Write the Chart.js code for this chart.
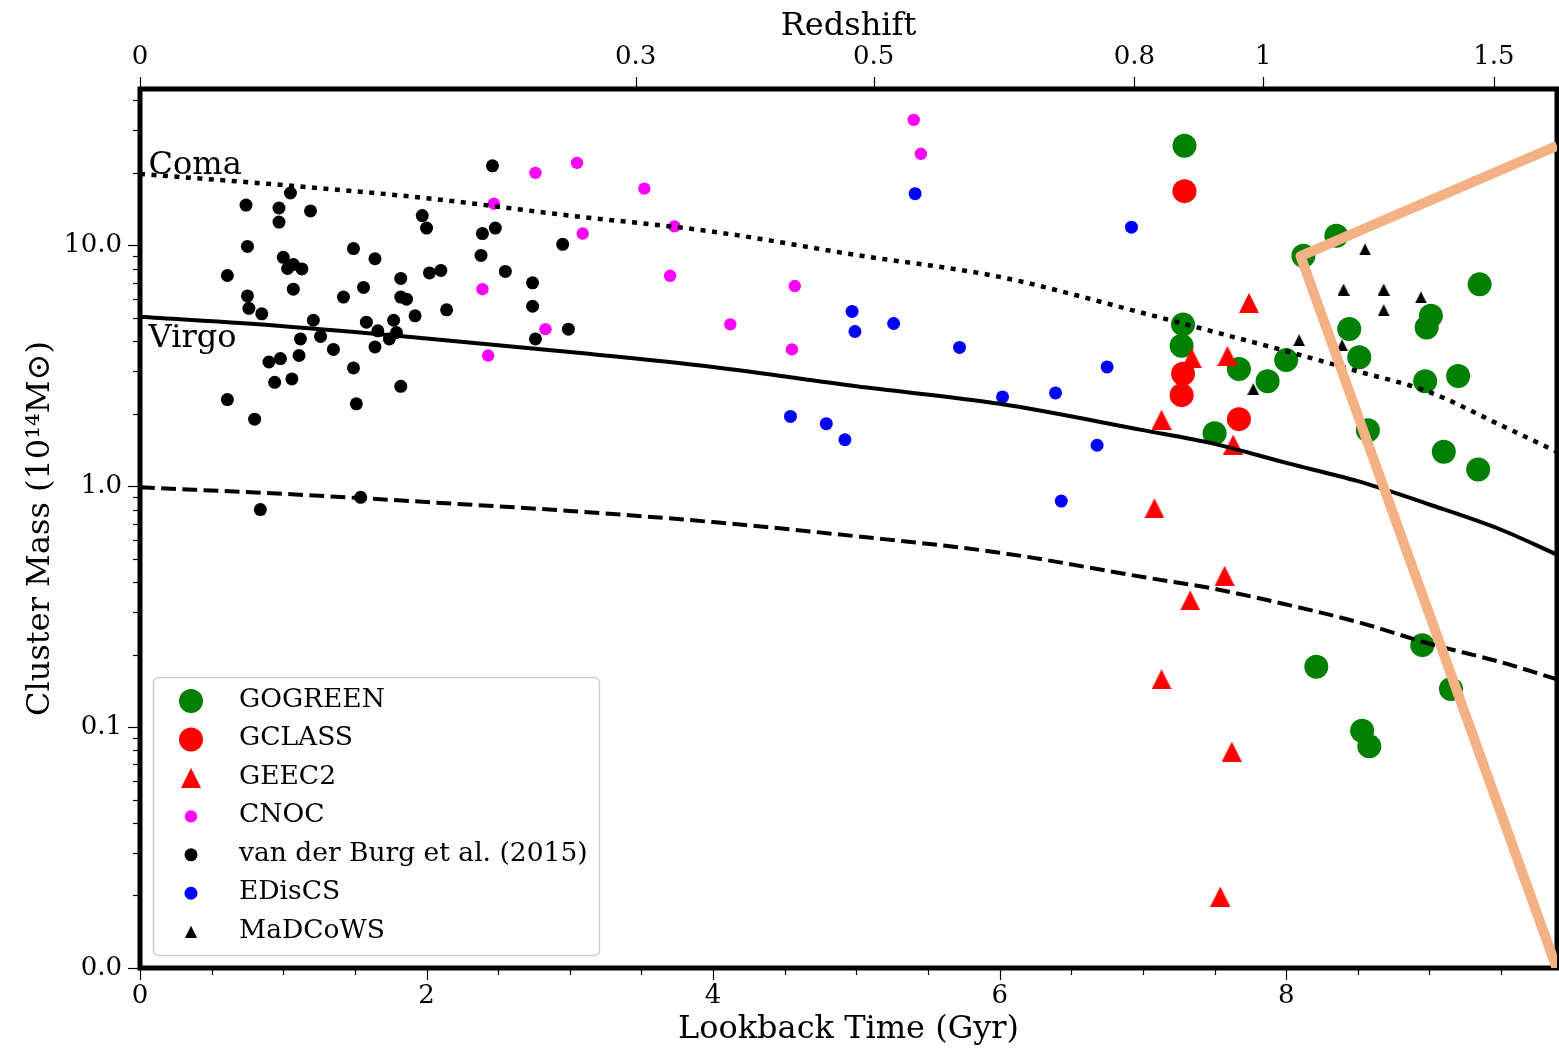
<!DOCTYPE html>
<html>
<head>
<meta charset="utf-8">
<title>Cluster mass vs lookback time</title>
<script src="https://cdn.jsdelivr.net/npm/chart.js@4.4.1/dist/chart.umd.min.js"></script>
<style>
  html, body { margin: 0; padding: 0; background: #fff; }
  canvas { display: block; }
</style>
</head>
<body>
<canvas id="massChart" width="1559" height="1051"></canvas>
<script>
// lookback time (Gyr) / cluster mass (1e14 Msun)
const gogreenT = [7.29, 8.35, 8.12, 9.35, 9.01, 8.98, 7.28, 7.27, 8.44, 8.51, 8.00, 7.67, 7.87, 8.97, 9.20, 7.50, 8.57, 9.10, 9.34, 8.21, 8.95, 9.15, 8.53, 8.58];
const gogreenM = [25.9, 10.96, 9.05, 6.89, 5.10, 4.56, 4.70, 3.83, 4.50, 3.43, 3.34, 3.07, 2.73, 2.73, 2.87, 1.66, 1.71, 1.39, 1.175, 0.178, 0.219, 0.144, 0.0967, 0.0832];

const gclassT = [7.29, 7.28, 7.27, 7.67];
const gclassM = [16.8, 2.93, 2.39, 1.90];

const geec2T = [7.74, 7.34, 7.59, 7.13, 7.63, 7.08, 7.57, 7.33, 7.13, 7.62, 7.54];
const geec2M = [5.77, 3.41, 3.48, 1.89, 1.49, 0.81, 0.425, 0.336, 0.158, 0.0791, 0.0198];

const cnocT = [2.76, 3.05, 3.52, 2.47, 3.73, 3.09, 3.70, 2.39, 2.83, 4.12, 2.43, 5.40, 5.45, 4.57, 4.55];
const cnocM = [20.0, 22.0, 17.2, 14.9, 12.0, 11.2, 7.48, 6.58, 4.49, 4.70, 3.49, 33.2, 24.0, 6.78, 3.70];

const vdbT = [1.05, 0.74, 0.97, 1.19, 0.97, 1.97, 2.00, 0.75, 1.49, 1.64, 0.61, 1.00, 1.03, 1.07, 1.13, 1.07,
              2.02, 2.10, 1.82, 1.56, 1.42, 0.75, 0.76, 0.85, 1.82, 1.86, 1.92, 2.14, 1.21, 1.58, 1.77, 1.66,
              1.79, 1.74, 1.26, 1.12, 1.64, 1.35, 0.98, 0.90, 1.11, 1.49, 0.94, 1.06, 1.82, 0.61, 1.51, 0.80,
              1.54, 0.84, 2.46, 2.39, 2.48, 2.95, 2.38, 2.55, 2.74, 2.74, 2.99, 2.76];
const vdbM = [16.5, 14.7, 14.3, 13.9, 12.5, 13.3, 11.8, 9.9, 9.7, 8.8, 7.5, 8.92, 8.02, 8.34, 7.99, 6.58,
              7.69, 7.87, 7.29, 6.69, 6.10, 6.17, 5.48, 5.20, 6.10, 5.98, 5.10, 5.40, 4.89, 4.80, 4.89, 4.42,
              4.35, 4.09, 4.19, 4.09, 3.79, 3.70, 3.39, 3.28, 3.49, 3.10, 2.70, 2.79, 2.60, 2.29, 2.20, 1.90,
              0.90, 0.80, 21.4, 11.2, 11.8, 10.1, 9.09, 7.80, 6.99, 5.59, 4.49, 4.09];

const edisT = [5.41, 6.92, 4.97, 4.99, 5.26, 5.72, 6.75, 6.02, 6.39, 4.54, 4.79, 4.92, 6.68, 6.43];
const edisM = [16.4, 11.9, 5.32, 4.39, 4.74, 3.77, 3.13, 2.35, 2.44, 1.95, 1.82, 1.56, 1.48, 0.868];

const madcowsT = [8.55, 8.40, 8.68, 8.94, 8.68, 8.09, 8.39, 7.77];
const madcowsM = [9.62, 6.56, 6.56, 6.08, 5.38, 4.04, 3.85, 2.53];

// growth tracks (Coma, Virgo, 1e14 group)
const curveT = [0, 1, 2, 3, 4, 5, 6, 7, 7.5, 8, 8.5, 9, 9.5, 9.89];
const comaM  = [19.8, 17.8, 15.7, 13.3, 11.4, 9.12, 7.40, 5.24, 4.37, 3.64, 3.00, 2.46, 1.79, 1.39];
const virgoM = [5.05, 4.62, 4.11, 3.61, 3.13, 2.60, 2.20, 1.71, 1.50, 1.25, 1.05, 0.84, 0.66, 0.52];
const groupM = [0.99, 0.93, 0.86, 0.79, 0.71, 0.62, 0.53, 0.42, 0.375, 0.323, 0.273, 0.222, 0.186, 0.158];

// highlighted wedge
const wedgeT = [9.89, 8.10, 9.89];
const wedgeM = [25.9, 9.03, 0.0099];

// ticks
const xTickValues = [0, 2, 4, 6, 8];
const zTickLabels = ['0', '0.3', '0.5', '0.8', '1', '1.5'];
const zTickGyr = [0, 3.46, 5.12, 6.94, 7.84, 9.45];
const yTickValues = [0.01, 0.1, 1, 10];
const yTickLabels = ['0.0', '0.1', '1.0', '10.0'];

const FONT = '"DejaVu Serif", "Liberation Serif", serif';
const X_MAX = 9.89, Y_MAX = 44.6;

const xMinor = [];
for (let v = 0; v <= 9.5; v += 0.5) xMinor.push(v);
const yAll = [];
yTickValues.forEach(d => {
  yAll.push(d);
  for (let k = 2; k <= 9; k++) {
    const v = +(k * d).toPrecision(2);
    if (v <= Y_MAX) yAll.push(v);
  }
});

function triangleMarker(size, color) {
  const c = document.createElement('canvas');
  c.width = size; c.height = size;
  const g = c.getContext('2d');
  g.fillStyle = color;
  g.beginPath();
  g.moveTo(size / 2, 0);
  g.lineTo(size, size);
  g.lineTo(0, size);
  g.closePath();
  g.fill();
  return c;
}
const redTri = triangleMarker(20, '#ff0000');
const blackTri = triangleMarker(12, '#000000');

const toPts = (t, m) => t.map((v, i) => ({ x: v, y: m[i] }));

function pointSet(label, t, m, style, radius, color, order) {
  return {
    label: label,
    data: toPts(t, m),
    pointStyle: style,
    pointRadius: radius,
    pointBorderWidth: 0,
    backgroundColor: color,
    borderColor: color,
    order: order
  };
}

function curveSet(label, m, dash, width) {
  return {
    label: label,
    data: toPts(curveT, m),
    showLine: true,
    pointRadius: 0,
    borderColor: '#000',
    borderWidth: width,
    borderDash: dash,
    borderCapStyle: 'butt',
    cubicInterpolationMode: 'monotone',
    order: 1
  };
}

const legendOrder = ['GOGREEN', 'GCLASS', 'GEEC2', 'CNOC', 'van der Burg et al. (2015)', 'EDisCS', 'MaDCoWS'];

// spines + tick marks, drawn under the data
const frame = {
  id: 'frame',
  beforeDatasetsDraw(chart) {
    const { ctx, chartArea: a, scales } = chart;
    ctx.save();
    ctx.strokeStyle = '#000';
    const seg = (x1, y1, x2, y2, w) => {
      ctx.lineWidth = w;
      ctx.beginPath(); ctx.moveTo(x1, y1); ctx.lineTo(x2, y2); ctx.stroke();
    };
    scales.x.ticks.forEach(t => {
      const px = Math.round(scales.x.getPixelForValue(t.value)) + 0.5;
      const major = xTickValues.includes(t.value);
      seg(px, a.bottom, px, a.bottom + (major ? 12 : 7), 1.2);
    });
    scales.x2.ticks.forEach(t => {
      const px = Math.round(scales.x2.getPixelForValue(t.value)) + 0.5;
      seg(px, a.top, px, a.top - 12, 1.2);
    });
    scales.y.ticks.forEach(t => {
      const py = Math.round(scales.y.getPixelForValue(t.value)) + 0.5;
      const major = yTickValues.includes(t.value);
      seg(a.left, py, a.left - (major ? 12 : 7), py, 1.2);
    });
    ctx.lineWidth = 5;
    ctx.lineJoin = 'miter';
    ctx.strokeRect(a.left, a.top, a.right - a.left, a.bottom - a.top);
    ctx.restore();
  },
  afterDatasetsDraw(chart) {
    const { ctx, scales } = chart;
    ctx.save();
    // curve names
    ctx.fillStyle = '#000';
    ctx.font = '32px ' + FONT;
    ctx.textBaseline = 'alphabetic';
    [['Coma', 0.06, 19.8], ['Virgo', 0.06, 3.78]].forEach(([txt, t, m]) => {
      ctx.fillText(txt, scales.x.getPixelForValue(t), scales.y.getPixelForValue(m));
    });

    // legend
    const bx = 153.5, by = 677.5, bw = 446, bh = 278, r = 5;
    ctx.beginPath();
    ctx.moveTo(bx + r, by);
    ctx.arcTo(bx + bw, by, bx + bw, by + bh, r);
    ctx.arcTo(bx + bw, by + bh, bx, by + bh, r);
    ctx.arcTo(bx, by + bh, bx, by, r);
    ctx.arcTo(bx, by, bx + bw, by, r);
    ctx.closePath();
    ctx.fillStyle = 'rgba(255,255,255,0.8)';
    ctx.fill();
    ctx.strokeStyle = '#cccccc';
    ctx.lineWidth = 1.5;
    ctx.stroke();

    ctx.font = '26.5px ' + FONT;
    ctx.textBaseline = 'middle';
    legendOrder.forEach((name, i) => {
      const ds = chart.data.datasets.find(d => d.label === name);
      const y = 701 + i * 38.45;
      if (ds.pointStyle instanceof HTMLCanvasElement) {
        const c = ds.pointStyle;
        ctx.drawImage(c, 191 - c.width / 2, y - c.height / 2);
      } else {
        ctx.fillStyle = ds.backgroundColor;
        ctx.beginPath();
        ctx.arc(191, y, ds.pointRadius, 0, Math.PI * 2);
        ctx.fill();
      }
      ctx.fillStyle = '#000';
      ctx.fillText(name, 239, y - 1);
    });
    ctx.restore();
  }
};

const axisText = { family: FONT, size: 26 };
const titleText = { family: FONT, size: 32 };

// keep the plot frame fixed: no extra side padding from tick labels
const fixHeight = h => s => { s.height = h; s.paddingLeft = 0; s.paddingRight = 0; };

new Chart(document.getElementById('massChart'), {
  type: 'scatter',
  data: {
    datasets: [
      {
        label: 'wedge',
        data: toPts(wedgeT, wedgeM),
        showLine: true,
        pointRadius: 0,
        borderColor: '#f4b183',
        borderWidth: 10,
        borderJoinStyle: 'round',
        tension: 0,
        order: 0
      },
      curveSet('Coma', comaM, [5, 6.5], 4.5),
      curveSet('Virgo', virgoM, [], 4),
      curveSet('Group', groupM, [14.8, 6.4], 4),
      pointSet('GEEC2', geec2T, geec2M, redTri, 10, '#ff0000', 2),
      pointSet('GCLASS', gclassT, gclassM, 'circle', 12, '#ff0000', 3),
      pointSet('GOGREEN', gogreenT, gogreenM, 'circle', 12, '#008000', 4),
      pointSet('MaDCoWS', madcowsT, madcowsM, blackTri, 6, '#000000', 5),
      pointSet('EDisCS', edisT, edisM, 'circle', 6.5, '#0000ff', 6),
      pointSet('CNOC', cnocT, cnocM, 'circle', 6.2, '#ff00ff', 7),
      pointSet('van der Burg et al. (2015)', vdbT, vdbM, 'circle', 6.5, '#000000', 8)
    ]
  },
  options: {
    responsive: false,
    animation: false,
    events: [],
    layout: { autoPadding: false, padding: { right: 2 } },
    plugins: {
      legend: { display: false },
      tooltip: { enabled: false }
    },
    scales: {
      x: {
        type: 'linear',
        position: 'bottom',
        min: 0,
        max: X_MAX,
        grid: { display: false, drawTicks: false },
        border: { display: false },
        afterBuildTicks: s => { s.ticks = xMinor.map(v => ({ value: v })); },
        ticks: {
          autoSkip: false,
          maxRotation: 0,
          padding: 13,
          color: '#000',
          font: axisText,
          callback: v => xTickValues.includes(v) ? String(v) : ''
        },
        title: { display: true, text: 'Lookback Time (Gyr)', color: '#000', font: titleText, padding: { top: 0, bottom: 2 } },
        afterFit: fixHeight(83)
      },
      x2: {
        type: 'linear',
        position: 'top',
        min: 0,
        max: X_MAX,
        grid: { display: false, drawTicks: false },
        border: { display: false },
        afterBuildTicks: s => { s.ticks = zTickGyr.map(v => ({ value: v })); },
        ticks: {
          autoSkip: false,
          maxRotation: 0,
          padding: 16,
          color: '#000',
          font: axisText,
          callback: (v, i) => zTickLabels[i]
        },
        title: { display: true, text: 'Redshift', color: '#000', font: titleText, padding: { top: 7, bottom: 0 } },
        afterFit: fixHeight(89)
      },
      y: {
        type: 'logarithmic',
        min: 0.01,
        max: Y_MAX,
        grid: { display: false, drawTicks: false },
        border: { display: false },
        afterBuildTicks: s => { s.ticks = yAll.map(v => ({ value: v })); },
        ticks: {
          autoSkip: false,
          padding: 18,
          color: '#000',
          font: axisText,
          callback: v => {
            const i = yTickValues.indexOf(v);
            return i >= 0 ? yTickLabels[i] : '';
          }
        },
        title: { display: true, text: 'Cluster Mass (10¹⁴M⊙)', color: '#000', font: titleText, padding: { top: 21, bottom: 0 } },
        afterFit: s => { s.width = 140; s.paddingTop = 0; s.paddingBottom = 0; }
      }
    }
  },
  plugins: [frame]
});
</script>
</body>
</html>
